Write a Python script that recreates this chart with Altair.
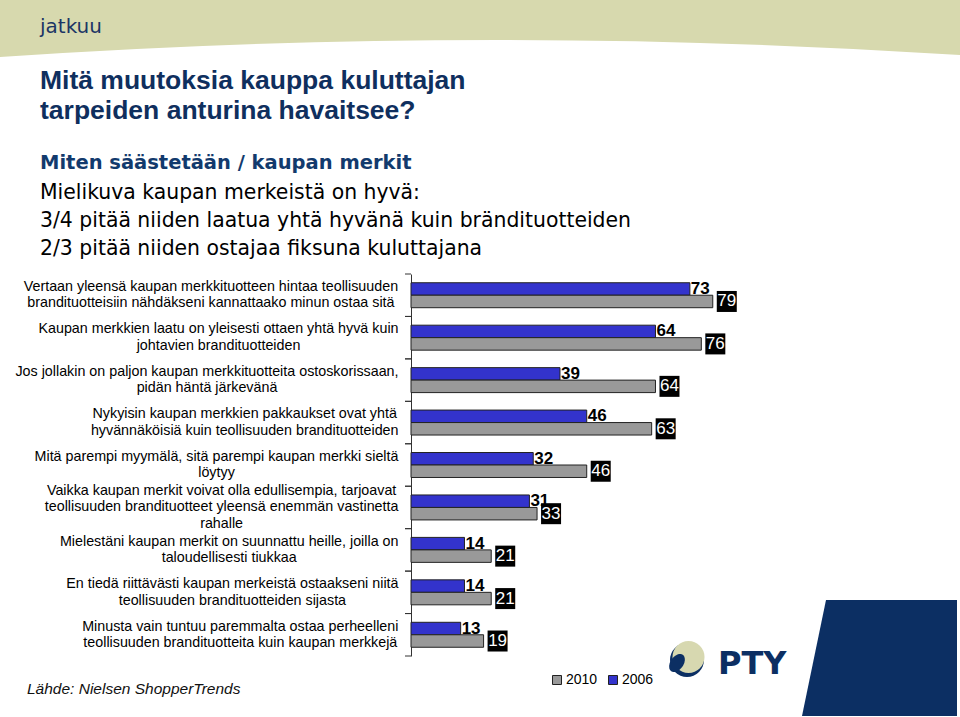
import math
import altair as alt
import pandas as pd

# ---------------- data ----------------
categories = [
    "Vertaan yleensä kaupan merkkituotteen hintaa teollisuuden|brandituotteisiin nähdäkseni kannattaako minun ostaa sitä",
    "Kaupan merkkien laatu on yleisesti ottaen yhtä hyvä kuin|johtavien brandituotteiden",
    "Jos jollakin on paljon kaupan merkkituotteita ostoskorissaan,|pidän häntä järkevänä",
    "Nykyisin kaupan merkkien pakkaukset ovat yhtä|hyvännäköisiä kuin teollisuuden brandituotteiden",
    "Mitä parempi myymälä, sitä parempi kaupan merkki sieltä|löytyy",
    "Vaikka kaupan merkit voivat olla edullisempia, tarjoavat|teollisuuden brandituotteet yleensä enemmän vastinetta|rahalle",
    "Mielestäni kaupan merkit on suunnattu heille, joilla on|taloudellisesti tiukkaa",
    "En tiedä riittävästi kaupan merkeistä ostaakseni niitä|teollisuuden brandituotteiden sijasta",
    "Minusta vain tuntuu paremmalta ostaa perheelleni|teollisuuden brandituotteita kuin kaupan merkkejä",
]
v2006 = [73, 64, 39, 46, 32, 31, 14, 14, 13]
v2010 = [79, 76, 64, 63, 46, 33, 21, 21, 19]
years = ["2006", "2010"]
legend_order = ["2010", "2006"]
colors = ["#999999", "#3333cc"]

banner_text = ["jatkuu"]
title_lines = ["Mitä muutoksia kauppa kuluttajan", "tarpeiden anturina havaitsee?"]
sub_head = ["Miten säästetään / kaupan merkit"]
sub_lines = [
    "Mielikuva kaupan merkeistä on hyvä:",
    "3/4 pitää niiden laatua yhtä hyvänä kuin brändituotteiden",
    "2/3 pitää niiden ostajaa fiksuna kuluttajana",
]
source_text = ["Lähde: Nielsen ShopperTrends"]
logo_text = ["PTY"]

rows = []
for c, a, b in zip(categories, v2006, v2010):
    rows.append({"cat": c, "year": "2006", "v": a})
    rows.append({"cat": c, "year": "2010", "v": b})
df = pd.DataFrame(rows)

# ---------------- layout ----------------
PL, PT = 411, 274
W, H = 382, 382
NAVY = "#0f2f5e"
LABEL_FONT = "Liberation Sans"
LABEL_SIZE = 14.3
LINE_H = 16.5
LABEL_GAP = 7

# Arial / Liberation Sans advance widths (1/1000 em) to centre wrapped label blocks
_W = {" ": 278, ",": 278, ".": 278, "-": 333, ":": 278, "/": 278}
_W.update({c: 556 for c in "abdeghnopqu0123456789äöå"})
_W.update({c: 500 for c in "cksvxyz"})
_W.update({c: 222 for c in "ijl"})
_W.update({"f": 278, "t": 278, "r": 333, "m": 833, "w": 722})
_W.update({"V": 667, "K": 667, "J": 500, "N": 722, "M": 833, "E": 667})


def text_width(s, size):
    return sum(_W.get(ch, 556) for ch in s) * size / 1000.0


def block_width(label):
    return max(text_width(line, LABEL_SIZE) for line in label.split("|"))


yscale = alt.Scale(domain=categories, paddingInner=0, paddingOuter=0)
oscale = alt.Scale(domain=years, paddingInner=0, paddingOuter=0.7)
xscale = alt.Scale(domain=[0, 100])

Y = lambda **kw: alt.Y("cat:N", sort=categories, scale=yscale, **kw)
YO = alt.YOffset("year:N", sort=years, scale=oscale)
X = alt.X("v:Q", scale=xscale, axis=None)

nlines = "length(split(datum.value, '|'))"
pad_conditions = [
    {"test": f"datum.value == {c!r}", "value": round(LABEL_GAP + block_width(c) / 2, 1)}
    for c in categories
]
yaxis = alt.Axis(
    title=None,
    labelExpr="split(datum.label, '|')",
    labelFont=LABEL_FONT,
    labelFontSize=LABEL_SIZE,
    labelColor="#000000",
    labelLimit=600,
    labelLineHeight=LINE_H,
    labelPadding={"condition": pad_conditions, "value": LABEL_GAP},
    labelAlign="center",
    labelBaseline="middle",
    labelOverlap=False,
    labelOffset={
        "condition": [
            {"test": f"{nlines} == 3", "value": -LINE_H},
            {"test": f"{nlines} == 2", "value": -LINE_H / 2},
        ],
        "value": 0,
    },
    ticks=True,
    tickSize=6,
    tickOpacity=0,
    domainColor="#333333",
    domainWidth=1,
    grid=False,
)


def px(x):
    return x - PL


def py(y):
    return y - PT


def one(val):
    return pd.DataFrame({"t": val})


def path_from_points(pts, cx, cy, half):
    s = "M " + " L ".join(f"{(x - cx) / half:.4f} {(y - cy) / half:.4f}" for x, y in pts)
    return s + " Z"


def ellipse_pts(cx, cy, a, b, rot, n=36):
    r = math.radians(rot)
    out = []
    for i in range(n):
        t = 2 * math.pi * i / n
        ex, ey = a * math.cos(t), b * math.sin(t)
        out.append((cx + ex * math.cos(r) - ey * math.sin(r), cy + ex * math.sin(r) + ey * math.cos(r)))
    return out


# banner shape (olive with arched bottom)
bx, by, bh = 480, 30, 480
banner_path = (
    f"M -1 {(0 - by) / bh:.4f} L 1 {(0 - by) / bh:.4f} L 1 {(55 - by) / bh:.4f} "
    f"Q 0 {(24 - by) / bh:.4f} -1 {(57 - by) / bh:.4f} Z"
)
banner = alt.Chart(one([0])).mark_point(
    shape=banner_path, size=(2 * bh) ** 2, filled=True, opacity=1, color="#d7d9ae", strokeWidth=0
).encode(x=alt.value(px(bx)), y=alt.value(py(by)))

# navy parallelogram bottom right
pcx, pcy, ph = 880, 664, 100
para_path = path_from_points([(826, 600), (957, 600), (957, 716), (802, 716)], pcx, pcy, ph)
para = alt.Chart(one([0])).mark_point(
    shape=para_path, size=(2 * ph) ** 2, filled=True, opacity=1, color="#0c2f63", strokeWidth=0
).encode(x=alt.value(px(pcx)), y=alt.value(py(pcy)))

# logo
logo_navy = alt.Chart(one([0])).mark_point(
    shape="circle", size=34 ** 2, filled=True, opacity=1, color="#0c2f63", strokeWidth=0
).encode(x=alt.value(px(687)), y=alt.value(py(660)))
logo_beige = alt.Chart(one([0])).mark_point(
    shape="circle", size=32 ** 2, filled=True, opacity=1, color="#d7d8b0", strokeWidth=0
).encode(x=alt.value(px(688.5)), y=alt.value(py(657)))
lcx, lcy, lh = 677, 663, 20
blob_path = path_from_points(ellipse_pts(lcx, lcy, 6.5, 10, 35), lcx, lcy, lh)
logo_blob = alt.Chart(one([0])).mark_point(
    shape=blob_path, size=(2 * lh) ** 2, filled=True, opacity=1, color="#0c2f63", strokeWidth=0
).encode(x=alt.value(px(lcx)), y=alt.value(py(lcy)))
logo_word = alt.Chart(one(logo_text)).mark_text(
    align="left", baseline="alphabetic", font="DejaVu Sans", fontWeight="bold", fontSize=32, color="#0c2f63"
).encode(text="t:N", x=alt.value(px(718)), y=alt.value(py(674)))


def txt(lines, x, y, size, weight="normal", color="#000000", font="DejaVu Sans", lh=None, style="normal"):
    props = dict(align="left", baseline="alphabetic", font=font, fontSize=size, fontWeight=weight,
                 color=color, fontStyle=style)
    if lh is not None:
        props["lineBreak"] = "\n"
        props["lineHeight"] = lh
    return alt.Chart(one(["\n".join(lines)])).mark_text(**props).encode(
        text="t:N", x=alt.value(px(x)), y=alt.value(py(y))
    )


t_banner = txt(banner_text, 40, 33, 20, color="#1b3565")
t_title = txt(title_lines, 40, 89, 26.5, weight="bold", color=NAVY, font="Liberation Sans", lh=30)
t_subhead = txt(sub_head, 40, 169, 19.5, weight="bold", color="#123a6d")
t_sub = txt(sub_lines, 40, 199, 20.4, color="#000000", lh=28)
t_source = txt(source_text, 27, 694, 15.5, color="#111111", font="Liberation Sans", style="italic")

# ---------------- chart layers ----------------
bars = alt.Chart(df).mark_bar(stroke="#222222", strokeWidth=1).encode(
    x=X,
    y=Y(axis=yaxis),
    yOffset=YO,
    color=alt.Color(
        "year:N",
        scale=alt.Scale(domain=legend_order, range=colors),
        legend=alt.Legend(
            title=None, orient="none", legendX=139, legendY=399, direction="horizontal",
            symbolType="square", symbolSize=81, symbolStrokeColor="#222222", symbolStrokeWidth=1,
            symbolOpacity=1, labelFont=LABEL_FONT, labelFontSize=14, labelColor="#000000",
            columnPadding=8, labelOffset=2, padding=0,
        ),
    ),
)

ticks_top = alt.Chart(df).transform_filter("datum.year == '2006'").mark_rule(
    color="#333333", strokeWidth=1
).encode(y=Y(bandPosition=0), x=alt.value(-6), x2=alt.value(0))
ticks_bot = alt.Chart(df).transform_filter("datum.year == '2006'").mark_rule(
    color="#333333", strokeWidth=1
).encode(y=Y(bandPosition=1), x=alt.value(-6), x2=alt.value(0))

lab06 = alt.Chart(df).transform_filter("datum.year == '2006'").mark_text(
    align="left", baseline="middle", dx=1, dy=0, font=LABEL_FONT, fontSize=17, fontWeight="bold", color="#000000"
).encode(x=X, y=Y(), yOffset=YO, text="v:Q")

box_path = "M -1 -1.05 L 1 -1.05 L 1 1.05 L -1 1.05 Z"
box10 = alt.Chart(df).transform_filter("datum.year == '2010'").mark_point(
    shape=box_path, size=400, filled=True, opacity=1, color="#000000", strokeWidth=0, xOffset=14
).encode(x=X, y=Y(), yOffset=YO)

lab10 = alt.Chart(df).transform_filter("datum.year == '2010'").mark_text(
    align="center", baseline="middle", dx=14, dy=0, font=LABEL_FONT, fontSize=17, color="#ffffff"
).encode(x=X, y=Y(), yOffset=YO, text="v:Q")

chart = alt.layer(
    banner, para, logo_navy, logo_beige, logo_blob, logo_word,
    t_banner, t_title, t_subhead, t_sub, t_source,
    bars, ticks_top, ticks_bot, lab06, box10, lab10,
).properties(
    width=W,
    height=H,
    padding={"left": PL, "top": PT, "right": 960 - PL - W, "bottom": 717 - PT - H},
    autosize=alt.AutoSizeParams(type="none"),
    background="#ffffff",
).configure_view(stroke=None)

chart.save("out.html", embed_options={"renderer": "svg", "actions": False})
